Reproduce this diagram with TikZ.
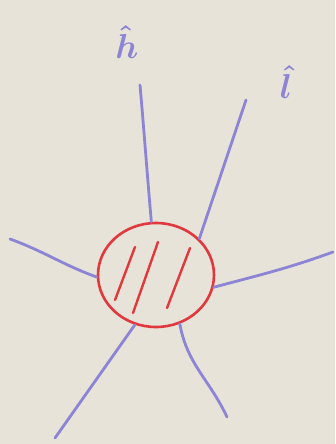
\documentclass[tikz,border=0pt]{standalone}
\usepackage{xcolor}
\usepackage{graphicx}
\usepackage{tikz}
\usetikzlibrary{shapes.geometric, positioning}
\usepackage{amsmath}
\definecolor{paper}{HTML}{E8E3D9}
\definecolor{marker}{HTML}{8C84D4}
\definecolor{redpen}{HTML}{E0383C}
\tikzset{
  blob/.style  ={ellipse, draw=redpen, line width=2.6pt, minimum width=116pt,
                 minimum height=104pt, inner sep=0pt},
  hatch/.style ={draw=redpen, line width=2.4pt, line cap=round},
  spoke/.style ={draw=marker, line width=2.8pt, line cap=round},
  lab/.style   ={text=marker, font=\LARGE, inner sep=0pt}
}

\begin{document}
\begin{tikzpicture}[x=1pt, y=-1pt]

  \fill[paper] (0,0) rectangle (335,444);
  \useasboundingbox (0,0) rectangle (335,444);

  \node[blob] (blob) at (156,275) {};

  % hatching inside the blob
  \draw[hatch] (135,247) -- (115,300);
  \draw[hatch] (158,242) -- (133,313);
  \draw[hatch] (190,248) -- (167,308);

  % labels
  \node[lab] (hlab) at (127,42) {\scalebox{2}{$\boldsymbol{\hat{h}}$}};
  \node[lab] (llab) at (286,82) {\scalebox{2}{$\boldsymbol{\hat{l}}$}};

  % free ends of the spokes
  \coordinate (htop)  at (140,85);
  \coordinate (ltop)  at (246,100);
  \coordinate (west)  at (10,239);
  \coordinate (east)  at (333,252);
  \coordinate (swest) at (55,438);
  \coordinate (seast) at (227,417);

  \draw[spoke] (blob.95)   to[out=95, in=-85] (htop);
  \draw[spoke] (blob.40)   -- (ltop);
  \draw[spoke] (blob.182)  to[out=160, in=-20] (west);
  \draw[spoke] (blob.-12)  to[out=15, in=-160] (east);
  \draw[spoke] (blob.-113) -- (swest);
  \draw[spoke] (blob.-64)  to[out=-80, in=115] (seast);

\end{tikzpicture}
\end{document}
